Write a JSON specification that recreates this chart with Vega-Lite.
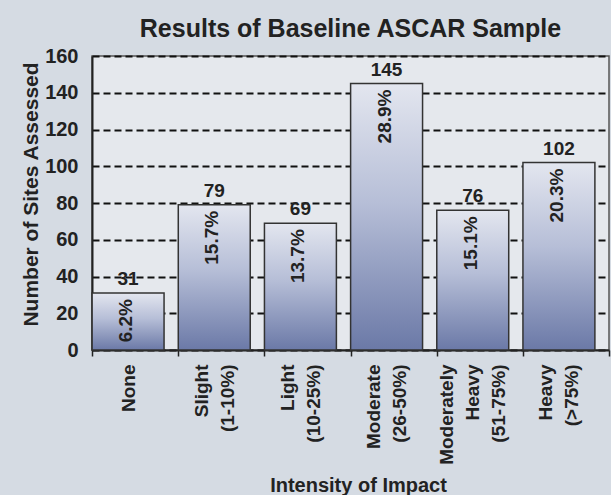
{
  "$schema": "https://vega.github.io/schema/vega-lite/v6.json",
  "width": 517,
  "height": 294,
  "autosize": "none",
  "padding": {"left": 92, "top": 56, "right": 2, "bottom": 145},
  "background": "#d5dbe3",
  "title": {
    "text": "Results of Baseline ASCAR Sample",
    "font": "Liberation Sans",
    "fontSize": 25,
    "fontWeight": "bold",
    "color": "#222222",
    "anchor": "middle",
    "offset": 4
  },
  "config": {
    "font": "Liberation Sans",
    "view": {"fill": "#e5e8ed", "stroke": "#555555", "strokeWidth": 1.5}
  },
  "data": {
    "values": [
      {"intensity": "None", "count": 31, "pct": "6.2%"},
      {"intensity": "Slight\n(1-10%)", "count": 79, "pct": "15.7%"},
      {"intensity": "Light\n(10-25%)", "count": 69, "pct": "13.7%"},
      {"intensity": "Moderate\n(26-50%)", "count": 145, "pct": "28.9%"},
      {"intensity": "Moderately\nHeavy\n(51-75%)", "count": 76, "pct": "15.1%"},
      {"intensity": "Heavy\n(>75%)", "count": 102, "pct": "20.3%"}
    ]
  },
  "encoding": {
    "x": {
      "field": "intensity",
      "type": "nominal",
      "sort": null,
      "scale": {"paddingInner": 0, "paddingOuter": 0},
      "axis": {
        "title": "Intensity of Impact",
        "titleFont": "Liberation Sans",
        "titleFontSize": 20,
        "titleFontWeight": "bold",
        "titleColor": "#222222",
        "titleX": 266,
        "titleY": 141,
        "titleAlign": "center",
        "titleBaseline": "alphabetic",
        "labelExpr": "length(split(datum.label, '\\n')) == 1 ? ['\u2800', '\u2800', datum.label] : (length(split(datum.label, '\\n')) == 2 ? ['\u2800', split(datum.label, '\\n')[0], '\u2800', split(datum.label, '\\n')[1]] : [split(datum.label, '\\n')[0], '\u2800', split(datum.label, '\\n')[1], '\u2800', split(datum.label, '\\n')[2]])",
        "labelAngle": -90,
        "labelAlign": "right",
        "labelBaseline": "middle",
        "labelFontSize": 19,
        "labelFontWeight": "bold",
        "labelColor": "#222222",
        "labelLineHeight": 13,
        "labelOffset": -33,
        "labelPadding": 8,
        "tickBand": "extent",
        "tickSize": 6,
        "tickColor": "#222222",
        "tickWidth": 1.5,
        "domainColor": "#222222",
        "domainWidth": 2,
        "labelLimit": 200
      }
    },
    "y": {
      "field": "count",
      "type": "quantitative",
      "scale": {"domain": [0, 160], "nice": false},
      "axis": {
        "title": "Number of Sites Assessed",
        "titleFont": "Liberation Sans",
        "titleFontSize": 21,
        "titleFontWeight": "bold",
        "titleColor": "#222222",
        "titleAngle": -90,
        "titleX": -61,
        "titleY": 138,
        "titleAlign": "center",
        "titleBaseline": "middle",
        "values": [0, 20, 40, 60, 80, 100, 120, 140, 160],
        "labelFontSize": 20,
        "labelFontWeight": "bold",
        "labelColor": "#222222",
        "labelPadding": 14,
        "ticks": false,
        "domainColor": "#222222",
        "domainWidth": 2,
        "grid": true,
        "gridColor": "#111111",
        "gridDash": [7, 4],
        "gridWidth": 2,
        "gridOpacity": 1
      }
    }
  },
  "layer": [
    {
      "mark": {
        "type": "bar",
        "width": {"band": 0.835},
        "xOffset": -7,
        "stroke": "#333333",
        "strokeWidth": 1.5,
        "fill": {
          "gradient": "linear",
          "x1": 0, "y1": 0, "x2": 0, "y2": 1,
          "stops": [
            {"offset": 0, "color": "#e3e6ef"},
            {"offset": 0.45, "color": "#b6bed7"},
            {"offset": 1, "color": "#6b79a7"}
          ]
        }
      }
    },
    {
      "mark": {
        "type": "text",
        "xOffset": -7,
        "baseline": "bottom",
        "dy": -4,
        "fontSize": 19,
        "fontWeight": "bold",
        "color": "#222222"
      },
      "encoding": {"text": {"field": "count", "type": "quantitative"}}
    },
    {
      "mark": {
        "type": "text",
        "xOffset": -7,
        "angle": 270,
        "align": "right",
        "baseline": "middle",
        "dx": -6,
        "dy": -2,
        "fontSize": 19,
        "fontWeight": "bold",
        "color": "#222222"
      },
      "encoding": {"text": {"field": "pct", "type": "nominal"}}
    }
  ]
}
